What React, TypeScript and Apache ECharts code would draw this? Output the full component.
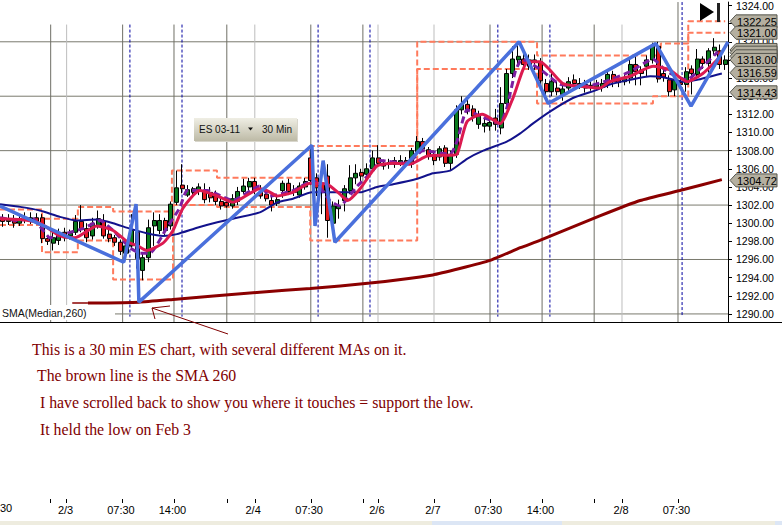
import React, { useEffect, useRef } from "react";
import * as echarts from "echarts";

// o, c, l, h per 30 min bar
const candles: number[][] = [
  [1300.6,1300.2,1299.6,1301],[1300.2,1300.4,1299.8,1301],[1300.4,1300,1299.5,1300.9],[1300,1300.5,1299.7,1301],
  [1300.5,1300.3,1300,1301.2],[1300.3,1300.6,1299.9,1301.2],[1300.6,1300.2,1299.9,1301.1],[1300.6,1298.3,1297.8,1301],
  [1298.3,1298,1297.6,1298.7],[1297.8,1298.4,1297,1299],[1298.1,1298.9,1297.6,1299.4],[1299,1298.4,1298,1299.5],
  [1298.6,1298.9,1298.2,1299.3],[1299,1300.2,1298.7,1300.9],[1300.2,1299.3,1299,1302],[1299.4,1298.4,1297.9,1300],
  [1298.6,1300,1298.2,1300.6],[1299.7,1300.5,1299.4,1301.4],[1300.2,1298.6,1298.3,1301],[1298.8,1298.3,1297.9,1299.5],
  [1298.4,1297.9,1297.5,1298.7],[1297.9,1296.9,1296.5,1298.2],[1296.7,1297.5,1296.2,1297.9],[1297.5,1299.2,1297.2,1301],
  [1299,1296.1,1295,1299.8],[1294.8,1296.2,1293.7,1296.6],[1296.2,1299.5,1295.7,1300.4],[1299.7,1300.3,1297.5,1301.2],
  [1299.2,1300.3,1298.8,1301],[1300.3,1299.2,1298.6,1300.6],[1299.7,1302.1,1299.3,1302.4],[1302.3,1303.9,1302,1305.8],
  [1304.2,1303.8,1303.3,1306.5],[1303.1,1303.7,1302.9,1304.2],[1303.4,1303.8,1303.1,1304],[1303.5,1304,1303.1,1304.4],
  [1303.6,1302.6,1302.2,1304.4],[1303.4,1302.8,1302.3,1304],[1303,1302.4,1302,1303.6],[1302.4,1301.9,1301.5,1303],
  [1302.3,1301.9,1301.7,1302.8],[1301.9,1302.7,1301.6,1303.2],[1302.4,1303.5,1302,1304],[1303.5,1304.1,1303.2,1304.9],
  [1304,1304.6,1303.6,1305],[1304.6,1303.6,1303.2,1305],[1303.4,1303,1302.7,1304.2],[1303.2,1302.7,1302.4,1303.8],
  [1302.5,1302,1301.3,1303],[1302.2,1302.6,1301.9,1303.2],[1303.6,1304.4,1302.8,1304.7],[1304.4,1303.5,1303.1,1304.9],
  [1303.4,1303.6,1303,1304.2],[1303.1,1304.1,1302.8,1304.5],[1304,1304.6,1303.7,1305],[1307.2,1304.7,1304.2,1308.2],
  [1305,1303.9,1303,1305.5],[1304.4,1303.6,1301,1305.5],[1305.2,1300.3,1298.4,1306.5],[1300,1301.9,1299.5,1302.4],
  [1301.6,1301.9,1300.5,1302.6],[1302.5,1303.8,1301.3,1304.2],[1303.6,1305,1303.2,1306.4],[1305,1305.5,1304.3,1306.5],
  [1305.6,1305.2,1304.6,1306],[1305.4,1306,1305,1306.6],[1306,1307.2,1305.6,1308],[1307.2,1306.6,1306.2,1308.6],
  [1306.6,1306.3,1305.9,1307],[1306.7,1306.5,1306,1307.1],[1306.5,1306.9,1306.1,1307.3],[1306.6,1306.9,1306.3,1307.5],
  [1306.9,1306.6,1306.2,1307.3],[1306.5,1308,1306.1,1308.3],[1307.9,1309,1307.5,1309.6],[1309,1308.2,1307.9,1309.4],
  [1308.1,1307.4,1307,1308.4],[1307.4,1306.9,1306.4,1308],[1307.3,1308.2,1306.9,1308.5],[1308.3,1306.6,1306.2,1308.6],
  [1306.6,1307.6,1305.8,1308],[1307.6,1312.5,1307.2,1313],[1312.5,1313.1,1312,1314],[1313.1,1312.5,1312,1313.8],
  [1312.6,1311.8,1311.2,1313],[1310.9,1311.8,1310.4,1312.4],[1310.7,1311,1310,1311.5],[1310.7,1311.1,1310.2,1311.6],
  [1311.6,1310.9,1310.2,1312.6],[1310.5,1313.2,1309.8,1315],[1313.2,1316.5,1312.9,1317],[1316.5,1318.1,1316,1319.5],
  [1318,1318.4,1317.4,1319.9],[1318.1,1317.5,1316.9,1319],[1318,1317.3,1316.9,1318.6],[1318,1317.8,1316.9,1318.6],
  [1317.8,1315.7,1315.3,1318.2],[1315.4,1314.5,1314,1315.9],[1314.5,1315.6,1314,1316.6],[1314.9,1314.5,1314.1,1315.6],
  [1314.2,1314.8,1313.5,1315.3],[1314.9,1315.6,1314.4,1316.1],[1315.8,1315.4,1315,1316.4],[1315.4,1315.2,1314.8,1316],
  [1314.9,1315.3,1314.4,1315.8],[1315,1315.2,1314.6,1315.7],[1315,1315.3,1314.6,1315.8],[1315,1315.4,1314.5,1315.9],
  [1315.4,1316.4,1314.9,1316.8],[1316.4,1315.6,1315,1316.8],[1315.8,1315.5,1315,1316.3],[1315.6,1316,1315.2,1316.5],
  [1316,1317.5,1315.4,1318.3],[1317.5,1316.7,1315.2,1318.4],[1316.9,1316.5,1315.2,1317.3],[1317.3,1318,1316.2,1318.5],
  [1318,1319.5,1317.6,1319.9],[1319.5,1315.9,1315.5,1320],[1316.5,1316.1,1315.6,1317],[1315.8,1314.5,1314,1316.3],
  [1314.7,1315.8,1314,1316.3],[1315.5,1315.3,1314.8,1316],[1315.3,1316.7,1314.5,1317.2],[1317,1316.5,1314.2,1317.4],
  [1316.4,1318.1,1316,1319.2],[1318.1,1317.6,1317,1318.4],[1317.6,1319,1316.6,1319.3],[1319,1319.4,1318.5,1320.4],
  [1319,1317.5,1317,1319.7],[1317.5,1318,1316.9,1318.5],
];

// [bar position, price]
const navyMA = [[0,1302.1],[3.6,1301.8],[7.1,1301.4],[10.7,1300.7],[13.7,1300.3],[17.3,1300.4],[20.2,1300],[23.2,1299.4],[26.2,1298.9],[29.1,1298.6],[31.6,1298.8],[35.2,1299.5],[38.8,1300.1],[41.6,1300.5],[46.4,1301.2],[49.5,1302.3],[52.3,1302.7],[55.7,1303.4],[58.4,1303.4],[64.3,1303.4],[67.3,1304],[70.2,1304.3],[74.5,1304.9],[77.3,1305.5],[80.4,1305.8],[83.4,1307.1],[86.3,1308],[90.5,1309],[92.9,1309.9],[95.2,1311],[98.2,1312.3],[102.3,1313.8],[106.6,1314.7],[108.9,1315.3],[112.5,1315.8],[116.1,1316.2],[118.4,1316.1],[122,1315.6],[124.5,1315.8],[128.9,1316.5]];
const crimsonMA = [[0,1300.5],[3.6,1300.4],[7.1,1300],[10.7,1298.6],[13.4,1298.4],[17.3,1299.7],[20.2,1299.2],[22.9,1297.9],[24.6,1297.5],[26.2,1297],[29.1,1297.8],[30.9,1299.2],[32.7,1301.7],[35.7,1303.6],[38.8,1303],[41.6,1302.3],[46.4,1303.8],[47.7,1303.6],[49.5,1303],[52.3,1303.4],[55.4,1304.4],[58.4,1304.3],[60.7,1303.2],[62.1,1302.5],[64.3,1303.8],[67.3,1306.3],[70.2,1306.6],[73.2,1306.5],[76.3,1307.4],[80.4,1307.5],[81.6,1307.6],[83.4,1311.2],[86.1,1312],[89.3,1311],[91.6,1313.8],[94.3,1317.8],[96.4,1317.8],[100.5,1315.4],[103.6,1315.1],[107.1,1314.9],[108.9,1315.6],[112.5,1316.2],[116.6,1317.3],[119.6,1316.9],[122.7,1315.6],[125.5,1316.5],[128.2,1318.1]];
const purpleMA = [[0,1300.6],[3,1300.3],[5.9,1300.5],[7.7,1299.2],[8.9,1298.4],[12,1298.9],[14.8,1299.4],[17.9,1300.3],[20.2,1299.2],[23.2,1297.3],[25,1296.7],[26.8,1296.7],[29.8,1299.5],[32.1,1301.7],[33.4,1303.6],[37,1303.6],[41.6,1302.5],[46.4,1304.1],[48.2,1303],[52.3,1303.6],[55.9,1304.7],[58.9,1302.5],[60.7,1301.9],[63.8,1304.1],[66.6,1305.8],[67.9,1306.9],[72.7,1306.6],[75.5,1308],[80.4,1307.6],[81.6,1309],[83.4,1312.5],[85.7,1311.8],[89.3,1311],[90.5,1312.7],[92,1316.7],[93.2,1318.1],[96.4,1317],[100,1315.3],[104.8,1315.1],[108.9,1315.8],[112.5,1316.7],[116.6,1318.1],[119.1,1316.7],[122.7,1315.8],[125.5,1317.3],[128.2,1318.9]];
const smaLead = [[12.9,1291.2],[15.7,1291.2]];
const sma260 = [[15.7,1291.2],[24.8,1291.3],[30.9,1291.6],[46.4,1292.4],[55.4,1292.8],[66.1,1293.4],[77.3,1294.3],[82.1,1295],[87.5,1295.9],[92.9,1297.3],[96.4,1298.1],[107.1,1300.8],[114.3,1302.5],[121.4,1303.6],[128.9,1304.8]];
const zigzag = [[0,1301.9],[22.1,1295.7],[24.3,1302.1],[24.8,1291.3],[55.7,1308.6],[56.25,1299.7],[57.7,1306.9],[59.8,1297.9],[92.7,1320],[97.9,1313.2],[117.1,1319.8],[123.4,1312.9],[130,1320]];
const upperBand = [[0,1301.5],[7.5,1300.5],[13.9,1301.8],[20.2,1301.3],[30.7,1305.8],[38.75,1305],[55.4,1308.5],[74.5,1320],[95.9,1318.5],[118,1319.8],[122.9,1322.25],[129.5,1322.25]];
const lowerBand = [[0,1299.8],[7.5,1296.8],[13.9,1298.1],[20.2,1293.8],[30.9,1302],[38.75,1301.8],[55.4,1298.1],[74.5,1317],[95.9,1313.2],[116.6,1314],[122.9,1321],[129.5,1321]];

const priceTicks = [1290,1292,1294,1296,1298,1300,1302,1304,1306,1308,1310,1312,1314,1316,1318,1320,1322,1324];
const priceGrid = [1290,1296,1302,1308,1314,1320];
const darkVerticals = [9.05,21.9,31.07,40.5,55.5,64.8,87.5,96.8,106.1];
const lastDarkVertical = [121.07];
const lightVerticals = [11.9,45.5,67.5,77.5,111.07];
const sessionVerticals = [23.2,32.5,56.8,66.07,88.9,98.2];
const lastSessionVertical = [121.8];
const tickBars = [9.05,11.9,21.9,31.07,40.5,45.5,55.5,64.8,67.5,77.5,87.5,96.8,106.1,111.07,121.07];
const labelBars = [11.7,21.6,30.8,45.2,55.2,67.3,77.3,87.2,96.5,110.9,120.8];
const labelTexts = ["2/3","07:30","14:00","2/4","07:30","2/6","2/7","07:30","14:00","2/8","07:30"];
const priceTags: [number, string][] = [
  [1322.25,"1322.25"],[1321.0,"1321.00"],[1316.59,"1316.59"],[1319.1,""],[1318.8,""],[1318.4,""],[1318.0,"1318.00"],[1314.43,"1314.43"],[1304.72,"1304.72"],
];
const notes: [string, number, number][] = [
  ["This is a 30 min ES chart, with several different MAs on it.",32,349],
  ["The brown line is the SMA 260",37,375],
  ["I have scrolled back to show you where it touches = support the low.",40,402],
  ["It held the low on Feb 3",40,429],
];

const SANS = '"Liberation Sans", Arial, sans-serif';
const SERIF = '"Liberation Serif", "Times New Roman", serif';
const TOP = 1324.38, BOTTOM = 1289.11, VTOP = 1321.9;

function verticals(xs: number[], top: number, bottom: number) {
  const out: any[] = [];
  xs.forEach((x) => { out.push([x, top], [x, bottom], [x, null]); });
  return out;
}
function horizontals(ys: number[]) {
  const out: any[] = [];
  ys.forEach((y) => { out.push([y === 1290 ? 20.5 : 0, y], [130, y], [130, null]); });
  return out;
}
const plain = (name: string, data: any[], color: string, width: number, z: number, extra: any = {}) => ({
  name, type: "line", data, symbol: "none", silent: true, z,
  lineStyle: { color, width, ...(extra.lineStyle || {}) },
  ...(extra.smooth !== undefined ? { smooth: extra.smooth } : {}),
  ...(extra.step ? { step: extra.step } : {}),
});

export default function App() {
  const ref = useRef<HTMLDivElement>(null);
  useEffect(() => {
    const chart = echarts.init(ref.current!, undefined, { renderer: "svg" });
    chart.setOption({
      animation: false,
      backgroundColor: "#ffffff",
      grid: [
        { left: 0, top: 0, width: 728, height: 322 },
        { left: 0, top: 498, width: 728, height: 1 },
      ],
      xAxis: [
        { type: "value", gridIndex: 0, min: 0, max: 130, show: false, splitLine: { show: false }, axisLine: { onZero: false } },
        {
          type: "value", gridIndex: 1, min: 0, max: 130, position: "bottom",
          axisLine: { show: false, onZero: false }, splitLine: { show: false },
          axisTick: { show: true, length: 4, customValues: tickBars, lineStyle: { color: "#000" } },
          axisLabel: {
            show: true, customValues: labelBars, margin: 5, hideOverlap: false,
            fontFamily: SANS, fontSize: 11, color: "#000",
            formatter: (v: number) => labelTexts[labelBars.indexOf(v)] ?? "",
          },
        },
      ],
      yAxis: [
        {
          type: "value", gridIndex: 0, position: "right", min: BOTTOM, max: TOP, scale: true,
          splitLine: { show: false },
          axisLine: { show: true, onZero: false, lineStyle: { color: "#000" } },
          axisTick: { show: true, length: 4, customValues: priceTicks, lineStyle: { color: "#000" } },
          axisLabel: {
            show: true, customValues: priceTicks, margin: 8, hideOverlap: false,
            fontFamily: SANS, fontSize: 10.5, color: "#000",
            formatter: (v: number) => v.toFixed(2),
          },
        },
        { type: "value", gridIndex: 1, min: 0, max: 1, show: false, splitLine: { show: false }, axisLine: { onZero: false } },
      ],
      series: [
        plain("grid-h", horizontals(priceGrid), "#7a7a6e", 1, 1),
        plain("grid-dark", verticals(darkVerticals, VTOP, BOTTOM), "#6f6f66", 1, 1),
        plain("grid-dark-last", verticals(lastDarkVertical, TOP, BOTTOM), "#6f6f66", 1, 1),
        plain("grid-light", verticals(lightVerticals, VTOP, BOTTOM), "#bdbdbd", 1, 1),
        plain("sessions", verticals(sessionVerticals, VTOP, 1289.7), "#0000a0", 1, 1, { lineStyle: { type: [3, 2] } }),
        plain("sessions-last", verticals(lastSessionVertical, TOP, 1289.7), "#0000a0", 1, 1, { lineStyle: { type: [3, 2] } }),
        plain("upper", upperBand, "#ff7a5c", 2, 2, { step: "end", lineStyle: { type: [6, 3] } }),
        plain("lower", lowerBand, "#ff7a5c", 2, 2, { step: "end", lineStyle: { type: [6, 3] } }),
        {
          name: "ES", type: "candlestick", z: 3, barWidth: 4.5, silent: true,
          data: candles.map((c, i) => [i + 0.5, c[0], c[1], c[2], c[3]]),
          itemStyle: { color: "#0a7a1e", color0: "#e41a1c", borderColor: "#000", borderColor0: "#000", borderWidth: 1 },
        },
        plain("navy", navyMA, "#12128c", 2, 4, { smooth: 0.15 }),
        plain("sma-lead", smaLead, "#8b0000", 1.5, 5),
        plain("sma", sma260, "#8b0000", 3, 5, { smooth: 0.15 }),
        plain("purple", purpleMA, "#7b1fa2", 3, 5, { smooth: 0.15, lineStyle: { type: [7, 4] } }),
        plain("crimson", crimsonMA, "#dc1a50", 3, 6, { smooth: 0.2 }),
        plain("zigzag", zigzag, "#4a70dc", 3.5, 7),
        {
          name: "tags", type: "custom", z: 8, silent: true,
          data: priceTags.map((t) => [130, t[0]]),
          renderItem: (params: any, api: any) => {
            const p = api.coord([api.value(0), api.value(1)]);
            const label = priceTags[params.dataIndex][1];
            const x = p[0], y = p[1];
            const children: any[] = [
              {
                type: "polygon",
                shape: { points: [[x + 2, y], [x + 8, y - 6.5], [x + 49, y - 6.5], [x + 49, y + 6.5], [x + 8, y + 6.5]] },
                style: { fill: "#b4afa0", stroke: "#55554d", lineWidth: 1 },
              },
            ];
            if (label) {
              children.push({
                type: "text",
                style: { text: label, x: x + 9, y: y + 0.5, fill: "#000", font: `11px ${SANS}`, verticalAlign: "middle" },
              });
            }
            return { type: "group", children };
          },
        },
      ],
      graphic: [
        { type: "rect", z: 1.5, shape: { x: 0, y: 305, width: 115, height: 15 }, style: { fill: "#fff" } },
        { type: "text", z: 10, style: { text: "SMA(Median,260)", x: 2, y: 313, fill: "#111", font: `10.5px ${SANS}`, verticalAlign: "middle" } },
        { type: "line", z: 10, shape: { x1: 0, y1: 322.5, x2: 782, y2: 322.5 }, style: { stroke: "#000", lineWidth: 1 } },
        // range button
        { type: "rect", z: 10, shape: { x: 195, y: 119, width: 103, height: 23 }, style: { fill: "#d8d6cc" } },
        {
          type: "rect", z: 11, shape: { x: 194, y: 118, width: 103, height: 23 },
          style: { fill: new echarts.graphic.LinearGradient(0, 0, 0, 1, [{ offset: 0, color: "#efeee4" }, { offset: 1, color: "#bdbaa6" }]) },
        },
        { type: "text", z: 12, style: { text: "ES 03-11", x: 199, y: 129, fill: "#111", font: `10px ${SANS}`, verticalAlign: "middle" } },
        { type: "polygon", z: 12, shape: { points: [[248, 127.5], [253, 127.5], [250.5, 130.5]] }, style: { fill: "#111" } },
        { type: "text", z: 12, style: { text: "30 Min", x: 262, y: 129, fill: "#111", font: `10px ${SANS}`, verticalAlign: "middle" } },
        // jump-to-end icon
        { type: "polygon", z: 12, shape: { points: [[700, 3], [714, 12], [700, 21]] }, style: { fill: "#000" } },
        { type: "rect", z: 12, shape: { x: 717, y: 3, width: 3, height: 19 }, style: { fill: "#222" } },
        // annotations
        ...notes.map(([text, x, y]) => ({
          type: "text", z: 12,
          style: { text, x, y, fill: "#800000", font: `15.8px ${SERIF}`, verticalAlign: "middle" },
        })),
        { type: "polyline", z: 12, shape: { points: [[228, 334], [152, 308]] }, style: { stroke: "#800000", lineWidth: 1, fill: "none" } },
        { type: "polyline", z: 12, shape: { points: [[170, 306], [152, 308], [155, 319]] }, style: { stroke: "#800000", lineWidth: 1, fill: "none" } },
        { type: "text", z: 12, style: { text: "30", x: 0, y: 508, fill: "#000", font: `11px ${SANS}`, verticalAlign: "middle" } },
        // scrollbar strip
        { type: "rect", z: 12, shape: { x: 0, y: 521, width: 782, height: 4 }, style: { fill: "#eeecdf" } },
        { type: "rect", z: 13, shape: { x: 432, y: 521, width: 130, height: 4 }, style: { fill: "#dce6f5" } },
        { type: "rect", z: 13, shape: { x: 775, y: 521, width: 7, height: 4 }, style: { fill: "#dce6f5" } },
      ],
    });
    return () => chart.dispose();
  }, []);
  return <div ref={ref} style={{ position: "absolute", left: 0, top: 0, width: 782, height: 525 }} />;
}
